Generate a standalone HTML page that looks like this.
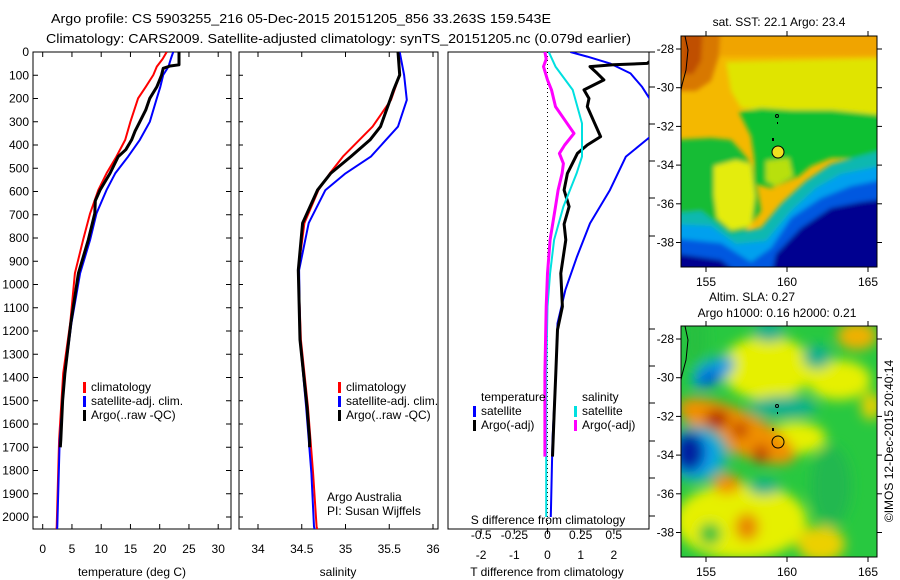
<!DOCTYPE html>
<html><head><meta charset="utf-8">
<style>
html,body{margin:0;padding:0;background:#fff;}
svg{display:block;font-family:"Liberation Sans",Arial,sans-serif;}
text{fill:#000;}
</style></head>
<body>
<svg id="fig" width="900" height="580" viewBox="0 0 900 580" xmlns="http://www.w3.org/2000/svg">
<defs>
  <filter id="blurM1" filterUnits="userSpaceOnUse" x="-20" y="-20" width="240" height="275"><feGaussianBlur stdDeviation="2.5"/></filter>
  <filter id="blurM2" filterUnits="userSpaceOnUse" x="-20" y="-20" width="240" height="275"><feGaussianBlur stdDeviation="6"/></filter>
  <clipPath id="clipM1"><rect x="681" y="36" width="196" height="231"/></clipPath>
  <clipPath id="clipM2"><rect x="681" y="326" width="196" height="231"/></clipPath>
  <clipPath id="clipP1"><rect x="33" y="52" width="198" height="477"/></clipPath>
  <clipPath id="clipP2"><rect x="239" y="52" width="199" height="477"/></clipPath>
  <clipPath id="clipP3"><rect x="448" y="52" width="201" height="477"/></clipPath>
</defs>

<text x="51" y="23" font-size="13" textLength="500" lengthAdjust="spacingAndGlyphs">Argo profile: CS 5903255_216 05-Dec-2015 20151205_856 33.263S 159.543E</text>
<text x="46" y="43" font-size="13" textLength="585" lengthAdjust="spacingAndGlyphs">Climatology: CARS2009. Satellite-adjusted climatology: synTS_20151205.nc (0.079d earlier)</text>

<g id="p1"></g>
<g id="p2"></g>
<g id="p3"></g>

<!-- Map 1: SST -->
<g>
  <text x="779" y="26" font-size="12" text-anchor="middle">sat. SST: 22.1 Argo: 23.4</text>
  <g clip-path="url(#clipM1)">
    <rect x="681" y="36" width="196" height="231" fill="#f4b800"/>
    <g transform="translate(681,36)" filter="url(#blurM1)">
      <rect x="-10" y="-10" width="220" height="30" fill="#f0a400"/>
      <polygon points="-10,-10 40,-10 38,20 30,45 15,55 -10,55" fill="#d87800"/>
      <polygon points="0,-10 22,-10 20,25 12,38 0,38" fill="#c05000"/>
      <polygon points="45,26 210,22 210,80 180,78 150,76 110,75 80,74 60,72 50,55" fill="#e0e400"/>
      <polygon points="58,76 80,72 110,74 150,74 210,80 210,128 170,122 150,122 130,130 118,140 100,148 90,152 75,148 73,120 70,100 64,88" fill="#10c030"/>
      <polygon points="-10,104 30,102 50,104 60,115 72,130 80,175 60,200 -10,190" fill="#14bc34"/>
      <polygon points="33,130 55,124 70,128 74,160 70,190 50,194 36,182 33,160" fill="#e4ec10"/>
      <polygon points="85,125 108,122 112,140 95,150 85,145" fill="#b8e010"/>
      <polygon points="-10,178 20,175 50,198 80,192 100,168 125,145 150,128 210,112 210,240 -10,240" fill="#10b8b0"/>
      <polygon points="-10,188 30,190 55,208 85,205 110,175 135,152 160,138 210,128 210,240 -10,240" fill="#00a0ee"/>
      <polygon points="-10,202 40,207 70,226 90,212 110,182 140,162 170,150 210,142 210,240 -10,240" fill="#0058e0"/>
      <polygon points="-10,217 40,224 60,240 -10,240" fill="#000090"/>
      <polygon points="95,218 120,192 150,172 180,166 210,162 210,240 90,240" fill="#000090"/>
    </g>
    <path d="M685,36 L688,50 L686,70 L682,85 L681,90" fill="none" stroke="#000" stroke-width="1"/>
    <circle cx="777" cy="116" r="1.5" fill="none" stroke="#000"/>
    <rect x="777" y="122" width="1" height="2" fill="#000"/>
    <rect x="772" y="138" width="2" height="3" fill="#000"/>
  </g>
  <rect x="681" y="36" width="196" height="231" fill="none" stroke="#000" stroke-width="1"/>
  <circle cx="778" cy="152" r="6" fill="#f0e020" stroke="#000" stroke-width="1"/>
  <g id="m1ticks"></g>
</g>

<!-- Map 2: SLA -->
<g>
  <text x="752" y="301" font-size="12" text-anchor="middle">Altim. SLA: 0.27</text>
  <text x="777" y="317" font-size="12" text-anchor="middle">Argo h1000: 0.16 h2000: 0.21</text>
  <g clip-path="url(#clipM2)">
    <rect x="681" y="326" width="196" height="231" fill="#28c840"/>
    <g transform="translate(681,326)" filter="url(#blurM2)">
      <ellipse cx="86" cy="42" rx="46" ry="32" fill="#e6f000"/>
      <ellipse cx="158" cy="54" rx="32" ry="20" fill="#e6f000"/>
      <ellipse cx="176" cy="10" rx="20" ry="14" fill="#f0b000"/>
      <ellipse cx="190" cy="80" rx="10" ry="14" fill="#e8d000"/>
      <ellipse cx="60" cy="195" rx="66" ry="38" fill="#e6f000"/>
      <ellipse cx="140" cy="218" rx="24" ry="18" fill="#ecd000"/>
      <ellipse cx="115" cy="112" rx="30" ry="16" fill="#e6f000"/>
      <ellipse cx="29" cy="208" rx="11" ry="11" fill="#28c040"/>
      <ellipse cx="150" cy="160" rx="20" ry="40" fill="#20b850"/>
      <ellipse cx="14" cy="12" rx="12" ry="30" fill="#28c040"/>
      <g transform="rotate(25 56 105)"><ellipse cx="56" cy="105" rx="64" ry="21" fill="#f09000"/></g>
      <ellipse cx="36" cy="93" rx="12" ry="9" fill="#b02000"/>
      <ellipse cx="59" cy="104" rx="8" ry="8" fill="#c03800"/>
      <ellipse cx="80" cy="128" rx="8" ry="9" fill="#c03800"/>
      <ellipse cx="46" cy="158" rx="14" ry="10" fill="#f09000"/>
      <ellipse cx="66" cy="201" rx="12" ry="14" fill="#e88800"/>
      <ellipse cx="102" cy="81" rx="34" ry="11" fill="#10b090"/>
      <ellipse cx="88" cy="6" rx="16" ry="10" fill="#10b090"/>
      <ellipse cx="136" cy="31" rx="14" ry="12" fill="#10b090"/>
      <ellipse cx="83" cy="161" rx="16" ry="8" fill="#10b090"/>
      <g transform="rotate(-30 32 46)"><ellipse cx="32" cy="46" rx="24" ry="12" fill="#10a0e0"/></g>
      <g transform="rotate(-30 28 52)"><ellipse cx="28" cy="52" rx="12" ry="6" fill="#0050d0"/></g>
      <ellipse cx="16" cy="128" rx="32" ry="28" fill="#10b0b0"/>
      <ellipse cx="12" cy="128" rx="24" ry="22" fill="#10a0f0"/>
      <ellipse cx="8" cy="126" rx="16" ry="20" fill="#0020a0"/>
    </g>
    <path d="M685,326 L688,340 L686,360 L682,375 L681,380" fill="none" stroke="#000" stroke-width="1"/>
    <circle cx="777" cy="406" r="1.5" fill="none" stroke="#000"/>
    <rect x="777" y="412" width="1" height="2" fill="#000"/>
    <rect x="772" y="428" width="2" height="3" fill="#000"/>
  </g>
  <rect x="681" y="326" width="196" height="231" fill="none" stroke="#000" stroke-width="1"/>
  <circle cx="778" cy="442" r="6" fill="none" stroke="#000" stroke-width="1"/>
  <g id="m2ticks"></g>
  <text transform="translate(893,441) rotate(-90)" font-size="12" text-anchor="middle">©IMOS 12-Dec-2015 20:40:14</text>
</g>

<script>
// ---- shared depth axis ----
const depthTicks = [0,100,200,300,400,500,600,700,800,900,1000,1100,1200,1300,1400,1500,1600,1700,1800,1900,2000];

// ---- temperature panel data ----
const tempTicks = [0,5,10,15,20,25,30];
const climDepth = [0,30,63,99,150,199,300,378,450,522,594,694,808,952,1167,1382,1668,2041,2055];
const climTemp  = [21.2,20.5,19.5,18.9,17.6,16.3,15.0,14.1,12.6,10.9,9.5,8.1,6.9,5.5,4.7,3.5,2.8,2.4,2.35];
const satTemp   = [22.3,21.9,21.5,20.6,20.1,19.5,18.3,16.6,14.6,12.4,10.9,9.2,8.1,6.4,4.9,3.8,2.9,2.5,2.45];
const argoDepth = [0,55,60,70,100,150,199,250,300,340,378,420,450,522,594,640,694,808,952,1167,1382,1500,1668,1700];
const argoTemp  = [23.3,23.3,21.8,20.6,20.3,19.5,18.3,17.6,16.6,15.8,15.2,14.2,12.9,11.5,9.8,9.0,8.9,7.8,6.1,4.8,3.8,3.4,3.1,3.0];

// ---- salinity panel data ----
const salTicks = [34,34.5,35,35.5,36];
const climSalDepth = [0,99,206,321,450,522,594,736,938,1238,1525,1812,2042,2055];
const climSal      = [35.61,35.62,35.52,35.31,34.97,34.82,34.69,34.53,34.46,34.49,34.57,34.63,34.67,34.68];
const satSal       = [35.62,35.67,35.70,35.60,35.29,35.00,34.77,34.58,34.47,34.48,34.55,34.61,34.64,34.65];
const argoSalDepth = [0,99,163,206,321,378,450,522,594,736,938,1238,1525,1668,1700];
const argoSal      = [35.60,35.62,35.55,35.51,35.40,35.28,35.06,34.83,34.68,34.51,34.46,34.48,34.56,34.59,34.59];

// ---- difference panel data ----
const tDiffTicks = [-2,-1,0,1,2];
const sDiffTicks = [-0.5,-0.25,0,0.25,0.5];
const sDiffTickLabels = ["-0.5","-0.25","0","0.25","0.5"];
const satTDepth = [0,20,49,92,150,206,364,450,594,737,880,1023,1167,1382,1668,2000];
const satTDiff  = [0.69,1.2,1.88,2.5,2.85,3.1,3.1,2.36,1.88,1.28,0.89,0.54,0.30,0.25,0.15,0.10];
const argoTDepth = [0,28,49,55,63,92,120,163,200,235,300,364,400,436,522,594,665,740,808,952,1095,1195,1382,1560,1740];
const argoTDiff  = [3.5,3.2,3.0,1.98,1.28,1.5,1.7,1.1,1.25,1.2,1.4,1.6,1.2,0.9,0.6,0.5,0.65,0.5,0.55,0.4,0.45,0.3,0.25,0.2,0.15];
const satSDepth = [0,63,163,307,450,522,665,808,952,1095,1382,2000];
const satSDiff  = [0.01,0.06,0.19,0.26,0.26,0.22,0.12,0.05,0.02,0.0,-0.01,-0.01];
const argoSDepth = [0,30,63,120,163,235,300,350,400,436,480,522,594,665,808,952,1095,1382,1740];
const argoSDiff  = [-0.02,-0.01,-0.03,0.0,0.03,0.06,0.14,0.2,0.13,0.09,0.12,0.11,0.08,0.06,0.02,0.0,-0.01,-0.02,-0.02];
const rightTickY = [52,87,124,161,198,236,329,366,403,441,478,516];

// ---- map axes ----
const lonTicks = [155,160,165];
const latTicks = [-28,-30,-32,-34,-36,-38];

const NS = "http://www.w3.org/2000/svg";
const TOP = 52, BOT = 529;
const yD = d => TOP + d * 0.2325;
function mk(parent, tag, attrs){ const e=document.createElementNS(NS,tag); for(const k in attrs) e.setAttribute(k,attrs[k]); parent.appendChild(e); return e; }
function txt(parent, x, y, s, anchor, size){ const t=mk(parent,'text',{x:x,y:y,'font-size':size||12,'text-anchor':anchor||'start'}); t.textContent=s; return t; }

function frame(g, x0, x1){
  mk(g,'rect',{x:x0,y:TOP,width:x1-x0,height:BOT-TOP,fill:'none',stroke:'#000','stroke-width':1});
}
function line(g, clip, depths, vals, xs, color, w, name){
  const pts = depths.map((d,i)=> xs(vals[i]).toFixed(1)+','+yD(d).toFixed(1)).join(' ');
  const p = mk(g,'polyline',{points:pts,fill:'none',stroke:color,'stroke-width':w,'clip-path':'url(#'+clip+')','stroke-linejoin':'round'});
  
  
}
function legend(g, x, y, color, label, name){
  mk(g,'rect',{x:x,y:y-9,width:3,height:11,fill:color});
  const t = txt(g, x+8, y, label);
  
  
}

// Panel 1
(function(){
  const g=document.getElementById('p1');
  const xs = v => 42.7 + v*5.85;
  frame(g,33,231);
  depthTicks.forEach(d=>{
    const y=yD(d);
    mk(g,'line',{x1:33,y1:y,x2:38,y2:y,stroke:'#000'});
    mk(g,'line',{x1:226,y1:y,x2:231,y2:y,stroke:'#000'});
    txt(g,29,y+4,String(d),'end');
  });
  tempTicks.forEach(v=>{
    const x=xs(v);
    mk(g,'line',{x1:x,y1:BOT,x2:x,y2:BOT-5,stroke:'#000'});
    mk(g,'line',{x1:x,y1:TOP,x2:x,y2:TOP+5,stroke:'#000'});
    txt(g,x,553,String(v),'middle');
  });
  const xl=txt(g,132,576,'temperature (deg C)','middle');
  
  
  line(g,'clipP1',climDepth,climTemp,xs,'#ff0000',2,'temp-climatology-line');
  line(g,'clipP1',climDepth,satTemp,xs,'#0000ff',2,'temp-satellite-line');
  line(g,'clipP1',argoDepth,argoTemp,xs,'#000000',3,'temp-argo-line');
  legend(g,83,391,'#ff0000','climatology','legend-climatology');
  legend(g,83,405,'#0000ff','satellite-adj. clim.','legend-satellite');
  legend(g,83,419,'#000000','Argo(..raw -QC)','legend-argo');
})();

// Panel 2
(function(){
  const g=document.getElementById('p2');
  const xs = v => 258 + (v-34)*87.5;
  frame(g,239,438);
  depthTicks.forEach(d=>{ const y=yD(d); mk(g,'line',{x1:239,y1:y,x2:243,y2:y,stroke:'#000'}); });
  salTicks.forEach(v=>{
    const x=xs(v);
    mk(g,'line',{x1:x,y1:BOT,x2:x,y2:BOT-5,stroke:'#000'});
    mk(g,'line',{x1:x,y1:TOP,x2:x,y2:TOP+5,stroke:'#000'});
    txt(g,x,553,String(v),'middle');
  });
  const xl=txt(g,338,576,'salinity','middle');
  
  
  line(g,'clipP2',climSalDepth,climSal,xs,'#ff0000',2,'sal-climatology-line');
  line(g,'clipP2',climSalDepth,satSal,xs,'#0000ff',2,'sal-satellite-line');
  line(g,'clipP2',argoSalDepth,argoSal,xs,'#000000',3,'sal-argo-line');
  legend(g,338,391,'#ff0000','climatology','legend-climatology-2');
  legend(g,338,405,'#0000ff','satellite-adj. clim.','legend-satellite-2');
  legend(g,338,419,'#000000','Argo(..raw -QC)','legend-argo-2');
  const a=txt(g,327,501,'Argo Australia');  
  const b=txt(g,327,515,'PI: Susan Wijffels');  
})();

// Panel 3
(function(){
  const g=document.getElementById('p3');
  const xt = v => 547.5 + v*33.2;
  const xsS = v => 547.5 + v*132.5;
  frame(g,448,649);
  mk(g,'line',{x1:547.5,y1:TOP,x2:547.5,y2:BOT,stroke:'#000','stroke-dasharray':'1,3'});
  rightTickY.forEach(y=>{ mk(g,'line',{x1:649,y1:y,x2:655,y2:y,stroke:'#000'}); });
  tDiffTicks.forEach(v=>{
    const x=xt(v);
    mk(g,'line',{x1:x,y1:BOT,x2:x,y2:BOT+5,stroke:'#000'});
    txt(g,x,559,String(v),'middle');
  });
  sDiffTicks.forEach((v,i)=>{ txt(g,xsS(v),539,sDiffTickLabels[i],'middle'); });
  const st=txt(g,548,524,'S difference from climatology','middle');  
  const tt=txt(g,547,576,'T difference from climatology','middle');  
  line(g,'clipP3',satTDepth,satTDiff,xt,'#0000ff',2,'tdiff-satellite-line');
  line(g,'clipP3',argoTDepth,argoTDiff,xt,'#000000',3,'tdiff-argo-line');
  line(g,'clipP3',satSDepth,satSDiff,xsS,'#00e0e0',2,'sdiff-satellite-line');
  line(g,'clipP3',argoSDepth,argoSDiff,xsS,'#ff00ff',3,'sdiff-argo-line');
  txt(g,481,401,'temperature');
  legend(g,473,415,'#0000ff','satellite','legend-t-satellite');
  legend(g,473,429,'#000000','Argo(-adj)','legend-t-argo');
  txt(g,582,401,'salinity');
  legend(g,574,415,'#00e0e0','satellite','legend-s-satellite');
  legend(g,574,429,'#ff00ff','Argo(-adj)','legend-s-argo');
})();

// Map ticks
function mapTicks(id, y0){
  const g=document.getElementById(id);
  const xl = lon => 706 + (lon-155)*16.2;
  const yl = lat => y0 + 13 + (-28 - lat)*19.35;
  lonTicks.forEach(l=>{
    const x=xl(l);
    mk(g,'line',{x1:x,y1:y0,x2:x,y2:y0-5,stroke:'#000'});
    mk(g,'line',{x1:x,y1:y0+231,x2:x,y2:y0+236,stroke:'#000'});
    txt(g,x,y0+250,String(l),'middle');
  });
  latTicks.forEach(l=>{
    const y=yl(l);
    mk(g,'line',{x1:681,y1:y,x2:676,y2:y,stroke:'#000'});
    mk(g,'line',{x1:877,y1:y,x2:882,y2:y,stroke:'#000'});
    txt(g,674,y+4,String(l),'end');
  });
}
mapTicks('m1ticks',36);
mapTicks('m2ticks',326);
</script>
</svg>
</body></html>
